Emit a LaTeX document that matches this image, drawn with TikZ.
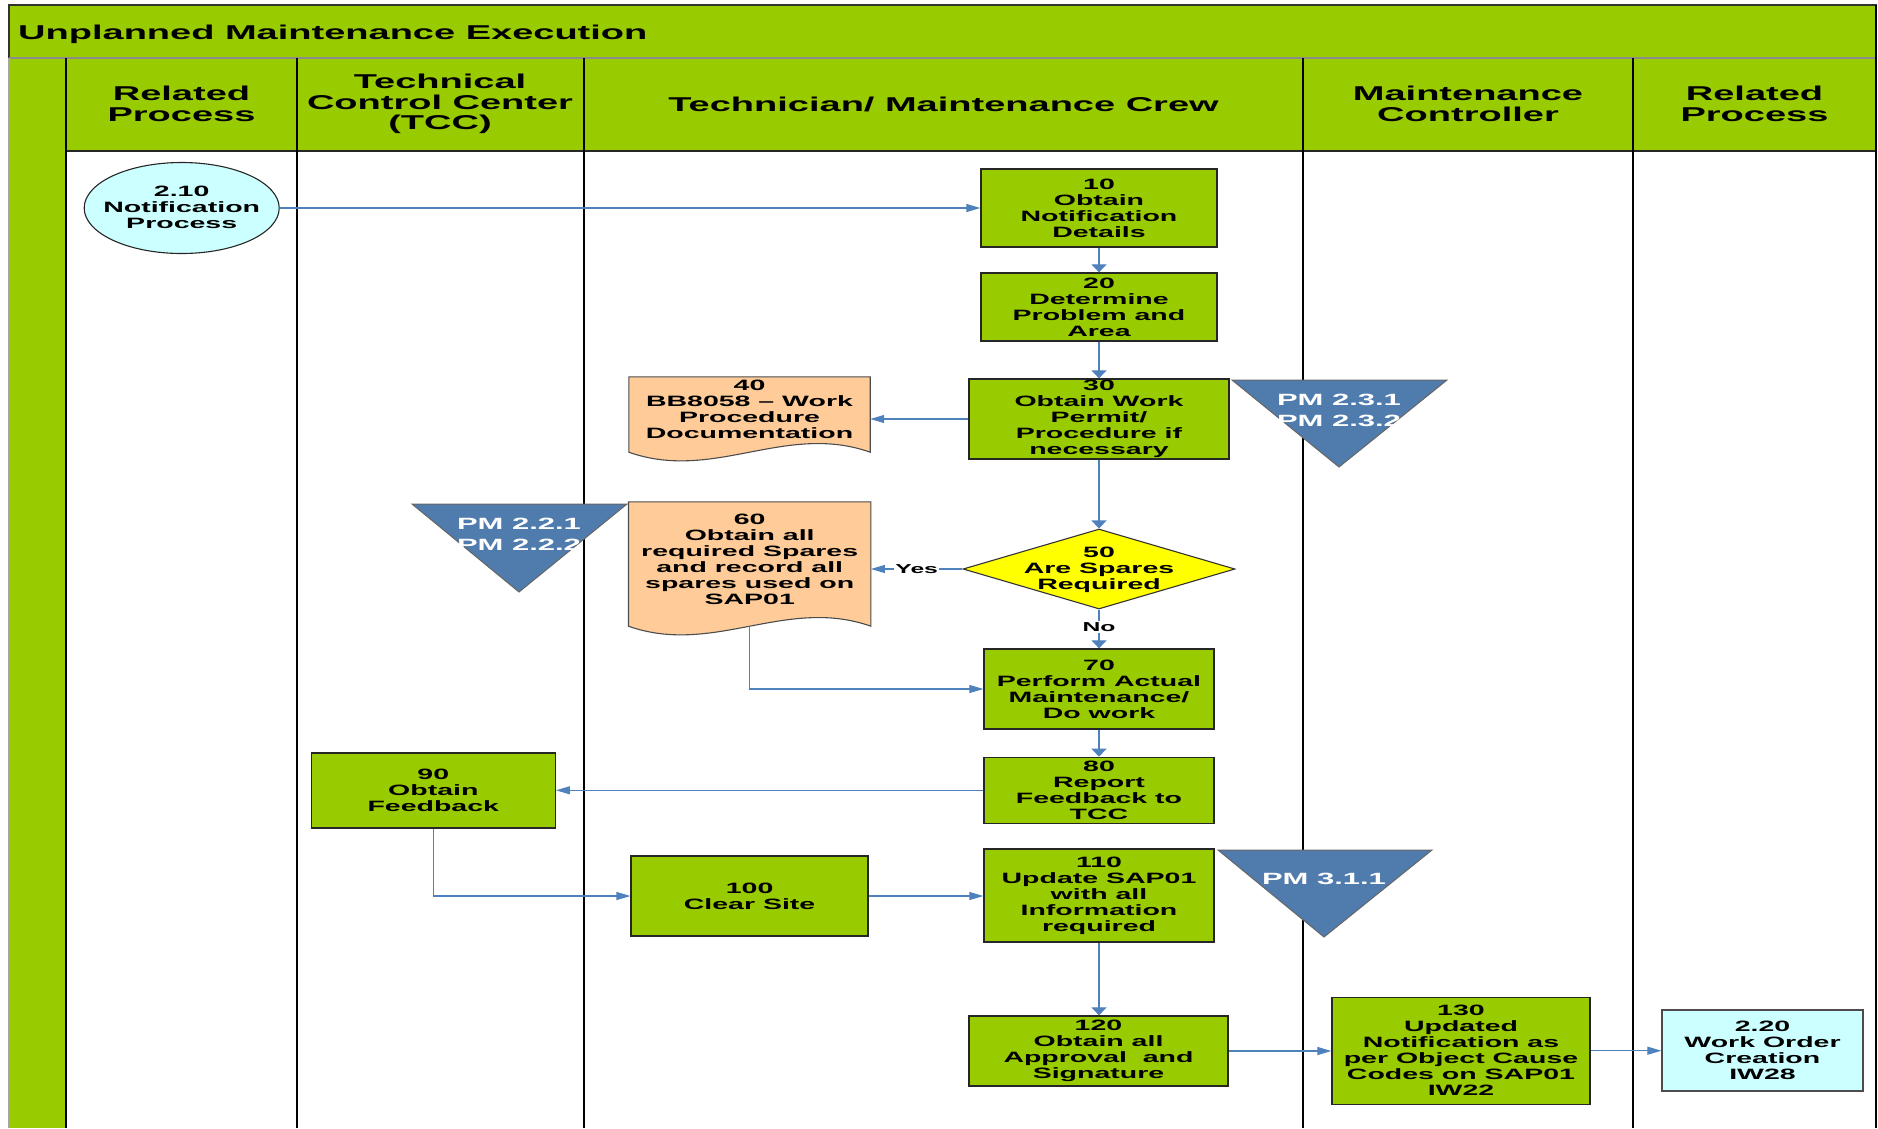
\documentclass[tikz,border=0pt]{standalone}
\usepackage{fontspec}
\newfontfamily\wf{Liberation Sans Bold}[FakeStretch=1.9]
\usetikzlibrary{arrows.meta,calc,shapes.geometric}
\definecolor{lanegreen}{HTML}{99CC00}
\definecolor{procCyan}{HTML}{CCFFFF}
\definecolor{docPeach}{HTML}{FFCC99}
\definecolor{decYellow}{HTML}{FFFF00}
\definecolor{refBlue}{HTML}{4F7BAD}
\definecolor{linkBlue}{HTML}{4F81BD}

% wavy-bottom document outline around an (empty) anchor node
\newcommand\drawdoc[1]{%
  \filldraw[docstyle] (#1.north west) -- (#1.north east) -- (#1.south east)
    .. controls ($(#1.south east)+(-85,-30)$) and ($(#1.south west)+(85,30)$) .. (#1.south west) -- cycle;}

\begin{document}
\begin{tikzpicture}[x=1pt,y=-1pt,
  txt/.style={font=\wf\fontsize{15}{16}\selectfont, align=center, inner sep=0pt},
  headtxt/.style={font=\wf\fontsize{20}{20.5}\selectfont, align=center, inner sep=0pt},
  stepbox/.style={txt, rectangle, draw=black!85, line width=1.3pt, fill=lanegreen},
  procbox/.style={txt, rectangle, draw=black!70, line width=1.3pt, fill=procCyan},
  docanchor/.style={rectangle, draw=none, inner sep=0pt},
  docstyle/.style={draw=black!70, line width=1.1pt, fill=docPeach},
  pmtri/.style={draw=black!60, line width=1pt, fill=refBlue},
  pmtxt/.style={font=\wf\fontsize{16.3}{21}\selectfont, align=center, inner sep=0pt, text=white},
  link/.style={draw=linkBlue, line width=1.2pt},
  harr/.style={link, -{Triangle[length=14pt,width=8pt]}},
  varr/.style={link, -{Triangle[length=8pt,width=15pt]}},
  lbl/.style={font=\wf\fontsize{13}{14}\selectfont, fill=white, inner sep=1pt},
  laneline/.style={draw=black, line width=1.8pt}]

\useasboundingbox (0,0) rectangle (1878,1128);

% ---- swimlane frame ----
\fill[lanegreen] (9,58) rectangle (1876,151);
\fill[lanegreen] (9,151) rectangle (66,1128);
\draw[fill=lanegreen, draw=black!80, line width=1.5pt] (9,5) rectangle (1876,58);
\draw[draw=black!45, line width=2.5pt] (9,58) -- (1876,58);
\draw[draw=black!85, line width=1.2pt] (66,151) -- (1876,151);
\draw[draw=black!35, line width=1.5pt] (9,58) -- (9,1128);
\foreach \lx in {66,297,584,1303,1633} \draw[laneline] (\lx,58) -- (\lx,1128);
\draw[laneline] (1876,5) -- (1876,1128);

\node[anchor=base west, font=\wf\fontsize{20}{24}\selectfont, inner sep=0pt] (title) at (18,39.3) {Unplanned Maintenance Execution};
\node[headtxt] (hRel1) at (181.5,104) {Related\\Process};
\node[headtxt] (hTCC) at (440,104) {Technical\\Control Center\\(TCC)};
\node[headtxt] (hTech) at (943.5,104) {Technician/ Maintenance Crew};
\node[headtxt] (hMC) at (1468,104) {Maintenance\\Controller};
\node[headtxt] (hRel2) at (1754.5,104) {Related\\Process};

% ---- off-page references ----
\filldraw[pmtri] (1232,380) -- (1447,380) -- (1339,467) -- cycle;
\node[pmtxt] (pm23) at (1339,410) {PM 2.3.1\\PM 2.3.2};
\filldraw[pmtri] (412,504) -- (627,504) -- (519,592) -- cycle;
\node[pmtxt] (pm22) at (519,534.5) {PM 2.2.1\\PM 2.2.2};
\filldraw[pmtri] (1218,850) -- (1432,850) -- (1324,937) -- cycle;
\node[pmtxt, anchor=base] (pm31) at (1324,884.3) {PM 3.1.1};

% ---- related processes ----
\node[ellipse, draw=black!85, line width=1.1pt, fill=procCyan, minimum width=195pt, minimum height=91pt, inner sep=0pt] (e210) at (181.7,208) {};
\node[txt] (e210t) at (181.7,207) {2.10\\Notification\\Process};
\node[procbox, minimum width=201pt, minimum height=81pt] (r220) at (1762.5,1050.5) {2.20\\Work Order\\Creation\\IW28};

% ---- process steps ----
\node[stepbox, minimum width=236pt, minimum height=78pt] (b10) at (1099,208) {10\\Obtain\\Notification\\Details};
\node[stepbox, minimum width=236pt, minimum height=68pt] (b20) at (1099,307) {20\\Determine\\Problem and\\Area};
\node[stepbox, minimum width=260pt, minimum height=80pt] (b30) at (1099,419) {30\\Obtain Work\\Permit/\\Procedure if\\necessary};

\node[docanchor, minimum width=241pt, minimum height=75pt] (d40) at (749.5,414.5) {};
\drawdoc{d40}
\node[txt] (d40t) at (749.5,409) {40\\BB8058 – Work\\Procedure\\Documentation};

\node[diamond, draw=black!80, line width=1.1pt, fill=decYellow, minimum width=272pt, minimum height=80pt, inner sep=0pt] (dia50) at (1099,569) {};
\node[txt] (dia50t) at (1099,569.5) {50\\Are Spares\\Required};

\node[docanchor, minimum width=242pt, minimum height=124pt] (d60) at (749.7,564) {};
\drawdoc{d60}
\node[txt] (d60t) at (749.7,559) {60\\Obtain all\\required Spares\\and record all\\spares used on\\SAP01};

\node[stepbox, minimum width=230pt, minimum height=80pt] (b70) at (1099,689) {70\\Perform Actual\\Maintenance/\\Do work};
\node[stepbox, minimum width=230pt, minimum height=66pt] (b80) at (1099,790.3) {80\\Report\\Feedback to\\TCC};
\node[stepbox, minimum width=244pt, minimum height=75pt] (b90) at (433.3,790.5) {90\\Obtain\\Feedback};
\node[stepbox, minimum width=237pt, minimum height=80pt] (b100) at (749.6,896) {100\\Clear Site};
\node[stepbox, minimum width=230pt, minimum height=93pt] (b110) at (1099,895.5) {110\\Update SAP01\\with all\\Information\\required};
\node[stepbox, minimum width=259pt, minimum height=70pt] (b120) at (1098.5,1051) {120\\Obtain all\\Approval~ and\\Signature};
\node[stepbox, minimum width=258pt, minimum height=107pt] (b130) at (1461,1050.7) {130\\Updated\\Notification as\\per Object Cause\\Codes on SAP01\\IW22};

% ---- connectors ----
\draw[harr] (e210.east) -- (e210.east -| b10.west);
\draw[varr] (b10.south) -- (b20.north);
\draw[varr] (b20.south) -- (b30.north);
\draw[harr] (b30.west) -- (b30.west -| d40.east);
\draw[varr] (b30.south) -- (dia50.north);
\draw[harr] (dia50.west) -- node[lbl] (yes) {Yes} (dia50.west -| d60.east);
\draw[varr] (dia50.south) -- node[lbl, pos=0.45] (no) {No} (b70.north);
\draw[harr] (d60.south) |- (b70.west);
\draw[varr] (b70.south) -- (b80.north);
\draw[harr] (b80.west) -- (b80.west -| b90.east);
\draw[harr] (b90.south) |- (b100.west);
\draw[harr] (b100.east) -- (b100.east -| b110.west);
\draw[varr] (b110.south) -- (b110.south |- b120.north);
\draw[harr] (b120.east) -- (b120.east -| b130.west);
\draw[harr] (b130.east) -- (b130.east -| r220.west);
\end{tikzpicture}
\end{document}
